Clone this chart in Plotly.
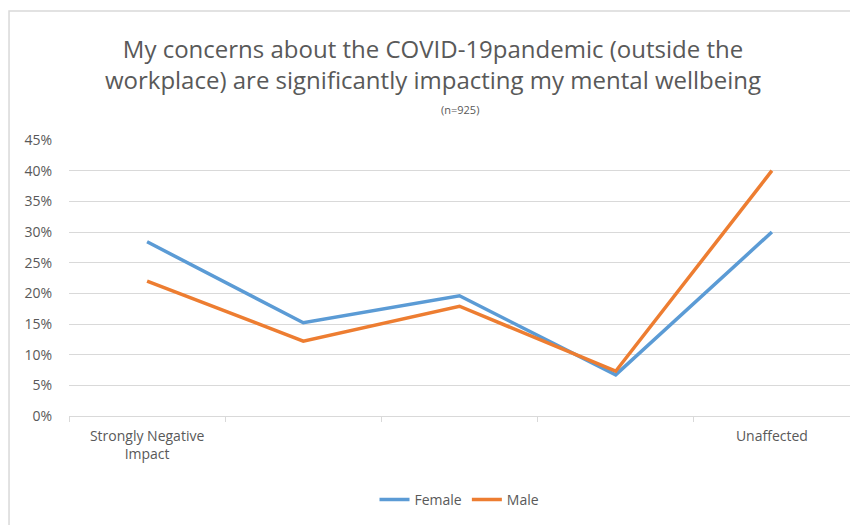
import plotly.graph_objects as go

categories = ["Strongly Negative Impact", "Somewhat Negative", "Neutral", "Slightly Negative", "Unaffected"]
tick_labels = ["Strongly Negative<br>Impact", "", "", "", "Unaffected"]
female = [0.284, 0.152, 0.196, 0.067, 0.300]
male = [0.220, 0.122, 0.179, 0.073, 0.400]

font = "Open Sans"
W, H = 850, 517
fig = go.Figure()
fig.add_trace(go.Scatter(x=categories, y=female, mode="lines", name="Female",
                         line=dict(color="#5b9bd5", width=3.5)))
fig.add_trace(go.Scatter(x=categories, y=male, mode="lines", name="Male",
                         line=dict(color="#ed7d31", width=3.5)))

fig.update_layout(
    width=W, height=H,
    margin=dict(l=61, r=8, t=132, b=109, autoexpand=False),
    paper_bgcolor="white", plot_bgcolor="white",
    font=dict(family=font, color="#595959"),
    title=dict(
        text="My concerns about the COVID-19pandemic (outside the<br>workplace) are significantly impacting my mental wellbeing",
        x=0.5, xanchor="center", y=1 - 50 / H, yanchor="middle",
        font=dict(size=24, color="#595959", family=font),
    ),
    annotations=[dict(text="(n=925)", xref="paper", yref="paper", x=0.5, y=1.112,
                      xanchor="center", yanchor="middle", showarrow=False,
                      font=dict(size=11, color="#595959"))],
    showlegend=True,
    legend=dict(orientation="h", x=0.5, xanchor="center", yref="container", y=0.0484, yanchor="middle",
                font=dict(size=14, color="#595959")),
    shapes=[dict(type="rect", xref="paper", yref="paper", x0=-0.0768, x1=1.05, y0=-0.5, y1=1.467,
                 line=dict(color="#d9d9d9", width=1.5))],
)
fig.update_xaxes(type="category", categoryorder="array", categoryarray=categories,
                 tickmode="array", tickvals=categories, ticktext=tick_labels,
                 tickson="boundaries", ticks="outside", ticklen=5, tickcolor="#d9d9d9",
                 showgrid=False, showline=True, linecolor="#d9d9d9", linewidth=1,
                 ticklabelstandoff=7,
                 tickfont=dict(size=14, color="#595959"), range=[-0.5, 4.5], automargin=False)
fig.update_yaxes(range=[0, 0.45], dtick=0.05, tickformat=".0%",
                 showgrid=True, gridcolor="#d9d9d9", gridwidth=1,
                 zeroline=False, showline=False, ticks="", ticklabelstandoff=16,
                 tickfont=dict(size=14, color="#595959"), automargin=False)

fig.write_html("out.html")
